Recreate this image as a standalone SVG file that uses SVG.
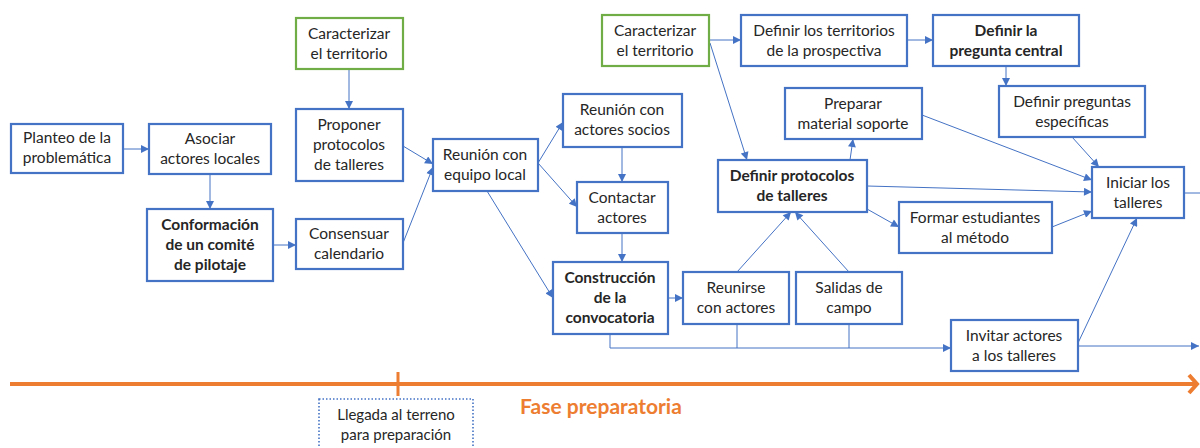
<svg xmlns="http://www.w3.org/2000/svg" width="1200" height="448" viewBox="0 0 1200 448">
<defs>
<marker id="arr" viewBox="0 0 10 10" refX="10" refY="5" markerWidth="9" markerHeight="8" markerUnits="userSpaceOnUse" orient="auto">
<path d="M0,0 L10,5 L0,10 z" fill="#4472C4"/>
</marker>
<style>
.box{fill:#fff;stroke:#4472C4;stroke-width:2.2}
.gbox{fill:#fff;stroke:#70AD47;stroke-width:2.2}
.dbox{fill:#fff;stroke:#4472C4;stroke-width:1.6;stroke-dasharray:1.5 2}
text{font-family:Lato,"Open Sans","Liberation Sans",sans-serif;font-size:15.5px;fill:#262626;text-anchor:middle}
.b{font-weight:bold}
.c{fill:none;stroke:#4472C4;stroke-width:1;marker-end:url(#arr)}
.cn{fill:none;stroke:#4472C4;stroke-width:1}
.tl{fill:none;stroke:#ED7D31;stroke-width:4}
.ph{fill:#ED7D31;font-size:21px;font-weight:bold}
.sm{font-size:15px}
</style>
</defs>
<rect width="1200" height="448" fill="#fff"/>

<g id="timeline">
<line class="tl" x1="10" y1="384" x2="1196" y2="384"/>
<polyline class="tl" points="1189,375 1197,384 1189,393"/>
<line class="tl" x1="398" y1="372" x2="398" y2="396" style="stroke-width:3"/>
<text class="ph" x="601" y="414">Fase preparatoria</text>
</g>

<g id="connectors">
<line class="c" x1="123" y1="149" x2="149" y2="149"/>
<line class="c" x1="210" y1="174" x2="210" y2="209"/>
<line class="c" x1="273" y1="245" x2="296" y2="245"/>
<line class="c" x1="349" y1="69" x2="349" y2="109"/>
<line class="c" x1="403" y1="146" x2="433" y2="164"/>
<line class="c" x1="403" y1="243" x2="433" y2="167"/>
<line class="c" x1="538" y1="163" x2="563" y2="122"/>
<line class="c" x1="538" y1="163" x2="577" y2="207"/>
<line class="c" x1="487" y1="191" x2="553" y2="298"/>
<line class="c" x1="622" y1="147" x2="622" y2="182"/>
<line class="c" x1="622" y1="233" x2="622" y2="262"/>
<line class="c" x1="668" y1="298" x2="683" y2="298"/>
<line class="c" x1="709" y1="40" x2="741" y2="40"/>
<line class="c" x1="710" y1="43" x2="747" y2="160"/>
<line class="c" x1="907" y1="40" x2="933" y2="40"/>
<line class="c" x1="1006" y1="66" x2="1006" y2="86"/>
<line class="c" x1="850" y1="160" x2="853" y2="139"/>
<line class="c" x1="922" y1="115" x2="1092" y2="180"/>
<line class="c" x1="1072" y1="137" x2="1099" y2="167"/>
<line class="c" x1="867" y1="186" x2="1092" y2="192"/>
<line class="c" x1="867" y1="209" x2="899" y2="227"/>
<line class="c" x1="1052" y1="227" x2="1092" y2="211"/>
<line class="c" x1="737" y1="272" x2="791" y2="212"/>
<line class="c" x1="849" y1="272" x2="795" y2="212"/>
<line class="c" x1="1078" y1="343" x2="1137" y2="218"/>
<line class="c" x1="1078" y1="346" x2="1199" y2="346"/>
<line class="cn" x1="1184" y1="193" x2="1200" y2="193"/>
<polyline class="cn" points="610,334 610,348 951,348" style="marker-end:url(#arr)"/>
<line class="cn" x1="737" y1="324" x2="737" y2="348"/>
<line class="cn" x1="849" y1="324" x2="849" y2="348"/>
</g>

<g id="n-planteo"><rect class="box" x="11" y="124" width="112" height="49"/><text x="67" y="143">Planteo de la</text><text x="67" y="163">problemática</text></g>
<g id="n-asociar"><rect class="box" x="149" y="124" width="122" height="50"/><text x="210" y="144">Asociar</text><text x="210" y="164">actores locales</text></g>
<g id="n-conformacion"><rect class="box" x="147" y="209" width="126" height="72"/><text class="b" x="210" y="230">Conformación</text><text class="b" x="210" y="250">de un comité</text><text class="b" x="210" y="270">de pilotaje</text></g>
<g id="n-caracterizar1"><rect class="gbox" x="296" y="18" width="107" height="51"/><text x="349" y="39">Caracterizar</text><text x="349" y="59">el territorio</text></g>
<g id="n-proponer"><rect class="box" x="296" y="109" width="107" height="72"/><text x="349" y="130">Proponer</text><text x="349" y="150">protocolos</text><text x="349" y="170">de talleres</text></g>
<g id="n-consensuar"><rect class="box" x="296" y="219" width="107" height="50"/><text x="349" y="239">Consensuar</text><text x="349" y="259">calendario</text></g>
<g id="n-reunion-equipo"><rect class="box" x="433" y="139" width="105" height="52"/><text x="485" y="160">Reunión con</text><text x="485" y="180">equipo local</text></g>
<g id="n-reunion-socios"><rect class="box" x="563" y="94" width="119" height="53"/><text x="622" y="115">Reunión con</text><text x="622" y="135">actores socios</text></g>
<g id="n-contactar"><rect class="box" x="577" y="182" width="91" height="51"/><text x="622" y="203">Contactar</text><text x="622" y="223">actores</text></g>
<g id="n-construccion"><rect class="box" x="553" y="262" width="115" height="72"/><text class="b" x="610" y="283">Construcción</text><text class="b" x="610" y="303">de la</text><text class="b" x="610" y="323">convocatoria</text></g>
<g id="n-caracterizar2"><rect class="gbox" x="602" y="15" width="107" height="51"/><text x="655" y="36">Caracterizar</text><text x="655" y="56">el territorio</text></g>
<g id="n-territorios"><rect class="box" x="741" y="15" width="166" height="51"/><text x="824" y="36">Definir los territorios</text><text x="824" y="56">de la prospectiva</text></g>
<g id="n-pregunta-central"><rect class="box" x="933" y="15" width="146" height="51"/><text class="b" x="1006" y="36">Definir la</text><text class="b" x="1006" y="56">pregunta central</text></g>
<g id="n-preparar"><rect class="box" x="785" y="88" width="137" height="51"/><text x="853" y="109">Preparar</text><text x="853" y="129">material soporte</text></g>
<g id="n-preguntas-especificas"><rect class="box" x="999" y="86" width="146" height="51"/><text x="1072" y="107">Definir preguntas</text><text x="1072" y="127">específicas</text></g>
<g id="n-definir-protocolos"><rect class="box" x="718" y="160" width="149" height="52"/><text class="b" x="792" y="181">Definir protocolos</text><text class="b" x="792" y="201">de talleres</text></g>
<g id="n-formar"><rect class="box" x="899" y="202" width="153" height="51"/><text x="975" y="223">Formar estudiantes</text><text x="975" y="243">al método</text></g>
<g id="n-iniciar"><rect class="box" x="1092" y="167" width="92" height="51"/><text x="1138" y="188">Iniciar los</text><text x="1138" y="208">talleres</text></g>
<g id="n-reunirse"><rect class="box" x="683" y="272" width="106" height="52"/><text x="736" y="293">Reunirse</text><text x="736" y="313">con actores</text></g>
<g id="n-salidas"><rect class="box" x="796" y="272" width="106" height="52"/><text x="849" y="293">Salidas de</text><text x="849" y="313">campo</text></g>
<g id="n-invitar"><rect class="box" x="951" y="320" width="127" height="51"/><text x="1014" y="341">Invitar actores</text><text x="1014" y="361">a los talleres</text></g>
<g id="n-llegada"><rect class="dbox" x="319" y="399" width="154" height="62"/><text class="sm" x="396" y="420">Llegada al terreno</text><text class="sm" x="396" y="440">para preparación</text></g>
</svg>
